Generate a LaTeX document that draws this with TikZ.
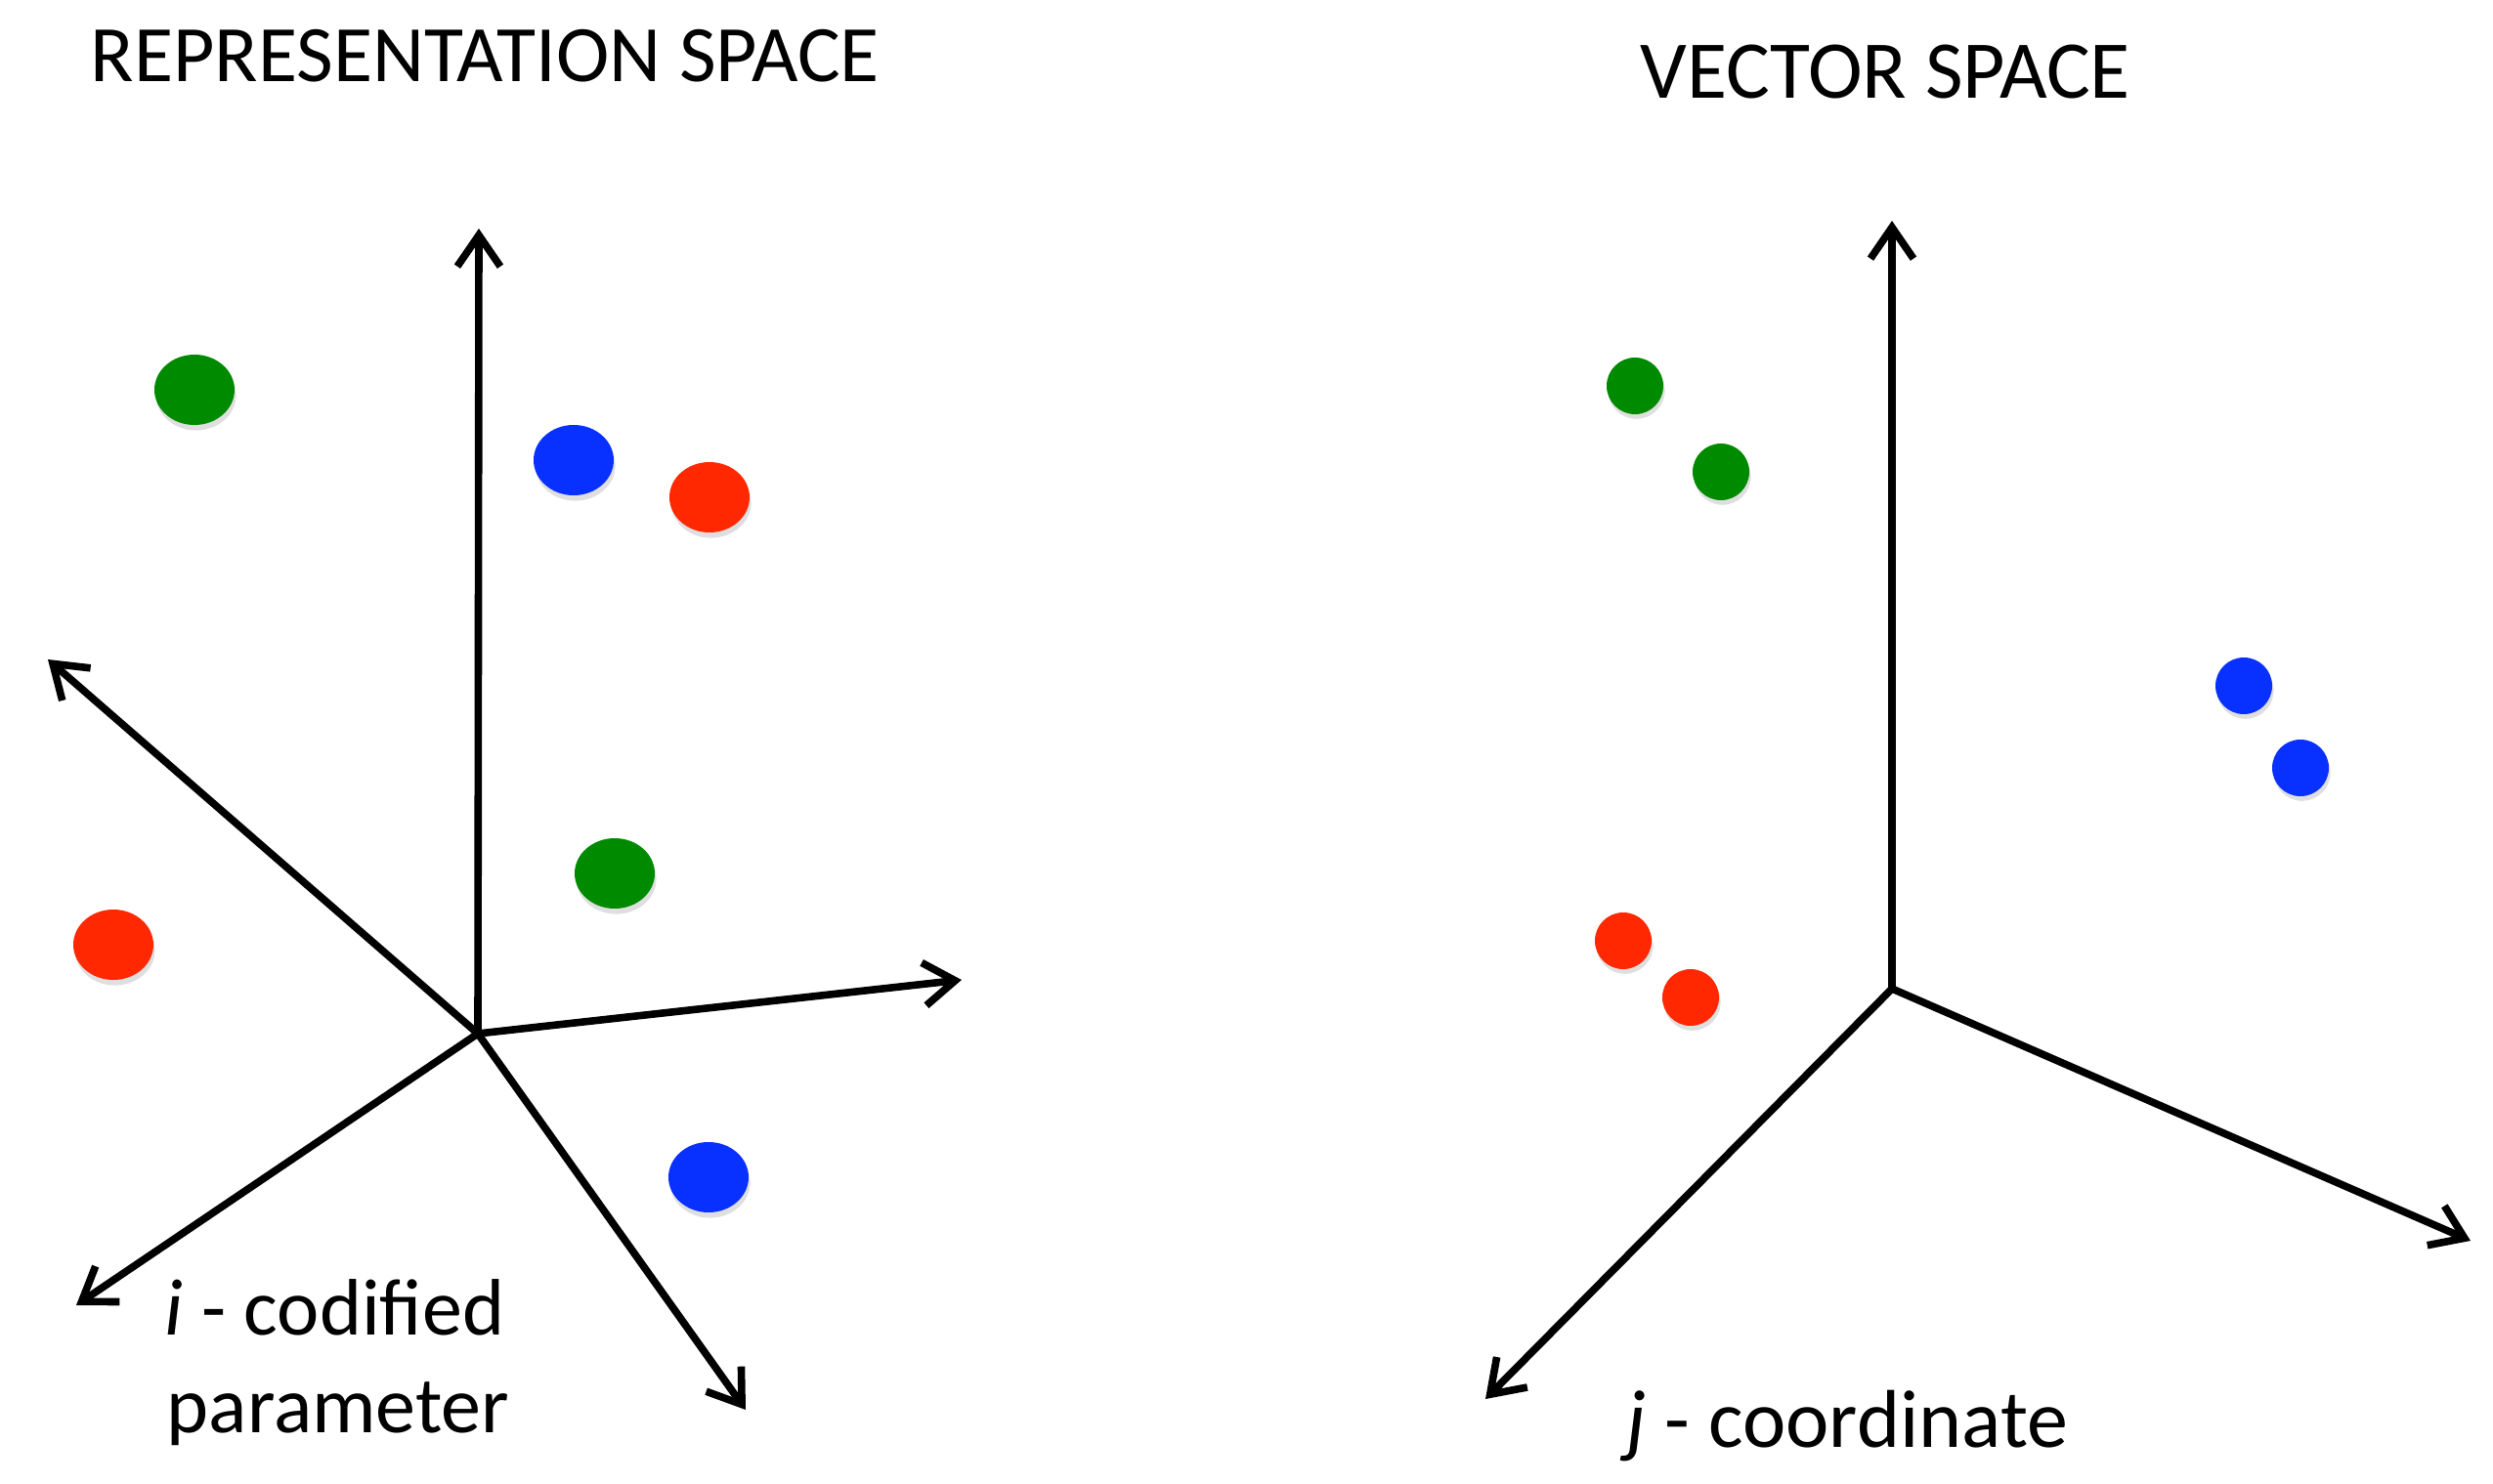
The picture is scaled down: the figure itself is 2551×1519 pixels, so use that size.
\documentclass[tikz,border=0pt]{standalone}
\usepackage{fontspec}
\setmainfont{Carlito}
\usetikzlibrary{arrows.meta,shapes.geometric,shadows}
\definecolor{dotgreen}{RGB}{0,138,0}
\definecolor{dotblue}{RGB}{8,48,255}
\definecolor{dotred}{RGB}{255,40,0}
\tikzset{
  axis/.style={line width=1.9pt, -{Straight Barb[length=8pt,width=11pt,line width=1.9pt]}},
  bigdot/.style={ellipse, inner sep=0pt, minimum width=20.5pt, minimum height=18pt,
    drop shadow={shadow xshift=0.4pt, shadow yshift=-1.4pt, opacity=0.25}},
  smalldot/.style={circle, inner sep=0pt, minimum size=14.5pt,
    drop shadow={shadow xshift=0.4pt, shadow yshift=-1.2pt, opacity=0.25}},
  title/.style={font=\fontsize{21}{25}\selectfont, inner sep=0pt},
  label/.style={font=\fontsize{20.5}{25}\selectfont, inner sep=0pt},
}
\begin{document}
\begin{tikzpicture}[x=0.25pt,y=0.25pt,yscale=-1,xscale=1]
\useasboundingbox (0,0) rectangle (2551,1519);

% Representation space
\node[title, anchor=base west, font=\fontsize{20.5}{25}\selectfont] (rtitle) at (92,84) {REPRESENTATION SPACE};
\coordinate (ro) at (489,1058);
\coordinate (rup) at (490,234);
\coordinate (rleft) at (49,675);
\coordinate (rright) at (984,1003);
\coordinate (rdownl) at (78,1336);
\coordinate (rdownr) at (763,1443);
\draw[axis] (ro) -- (rup);
\draw[axis] (ro) -- (rleft);
\draw[axis] (ro) -- (rright);
\draw[axis] (ro) -- (rdownl);
\draw[axis] (ro) -- (rdownr);

\node[bigdot, fill=dotgreen] (rg1) at (199,399) {};
\node[bigdot, fill=dotblue] (rb1) at (587,471) {};
\node[bigdot, fill=dotred] (rr1) at (726,509) {};
\node[bigdot, fill=dotgreen] (rg2) at (629,894) {};
\node[bigdot, fill=dotred] (rr2) at (116,967) {};
\node[bigdot, fill=dotblue] (rb2) at (725,1205) {};

\node[label, anchor=base west] (rlab1) at (168,1366) {\textit{i} - codified};
\node[label, anchor=base west] (rlab2) at (170,1466) {parameter};

% Vector space
\node[title, anchor=base west] (vtitle) at (1678,101) {VECTOR SPACE};
\coordinate (vo) at (1936,1012);
\coordinate (vup) at (1936,226);
\coordinate (vdownl) at (1520,1432);
\coordinate (vdownr) at (2528,1270);
\draw[axis] (vo) -- (vup);
\draw[axis] (vo) -- (vdownl);
\draw[axis] (vo) -- (vdownr);

\node[smalldot, fill=dotgreen] (vg1) at (1673,395) {};
\node[smalldot, fill=dotgreen] (vg2) at (1761,483) {};
\node[smalldot, fill=dotblue] (vb1) at (2296,702) {};
\node[smalldot, fill=dotblue] (vb2) at (2354,786) {};
\node[smalldot, fill=dotred] (vr1) at (1661,963) {};
\node[smalldot, fill=dotred] (vr2) at (1730,1021) {};

\node[label, anchor=base west, font=\fontsize{21}{25}\selectfont] (vlab) at (1664,1481) {\textit{j} - coordinate};
\end{tikzpicture}
\end{document}
